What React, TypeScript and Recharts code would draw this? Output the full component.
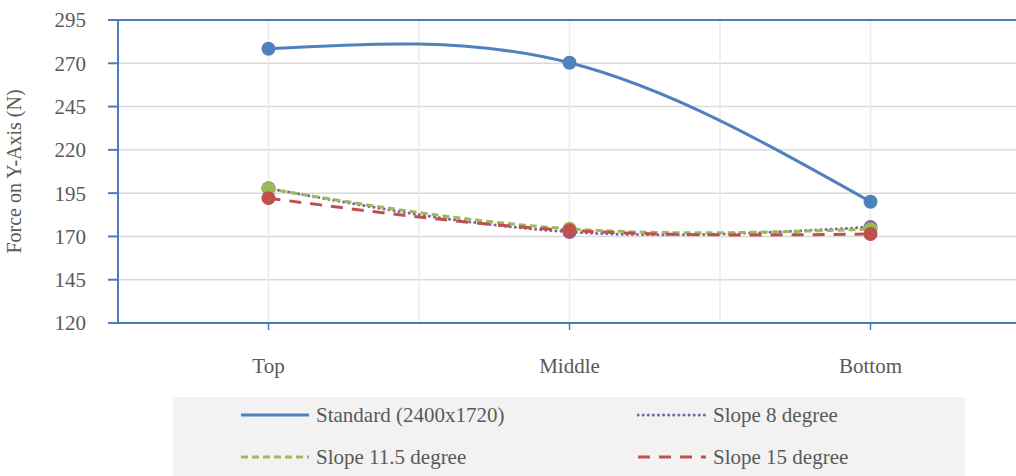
import { LineChart, Line, XAxis, YAxis, CartesianGrid, ReferenceLine } from 'recharts'

const positions = ['Top', 'Middle', 'Bottom']

const standard = [278.4, 270.3, 190]
const slope8 = [197.8, 172.6, 175.4]
const slope115 = [197.5, 174.4, 174.2]
const slope15 = [192.1, 173.5, 171.4]

const yTicks = [120, 145, 170, 195, 220, 245, 270, 295]

const SERIES = [
  { key: 'standard', name: 'Standard (2400x1720)', color: '#4f81bd', dash: undefined as string | undefined, cap: 'butt' as const },
  { key: 'slope8', name: 'Slope 8 degree', color: '#8064a2', dash: '0.1 5', cap: 'round' as const },
  { key: 'slope115', name: 'Slope 11.5 degree', color: '#9bbb59', dash: '7 4', cap: 'butt' as const },
  { key: 'slope15', name: 'Slope 15 degree', color: '#c0504d', dash: '12 9', cap: 'butt' as const },
]

const data = positions.map((p, i) => ({
  position: p,
  standard: standard[i],
  slope8: slope8[i],
  slope115: slope115[i],
  slope15: slope15[i],
}))

const AXIS = '#4a7ebb'
const FONT = '"Liberation Serif", "Times New Roman", serif'

// gridlines at every category centre and every band edge
const halfBandLines = ({ offset }: any) => {
  const n = positions.length * 2
  return Array.from({ length: n + 1 }, (_, i) => offset.left + (offset.width * i) / n)
}

function LegendBox() {
  return (
    <div
      style={{
        position: 'absolute',
        left: 173,
        top: 397,
        width: 792,
        height: 79,
        background: '#f2f2f2',
        fontFamily: FONT,
        fontSize: 21,
        color: '#595959',
      }}
    >
      {SERIES.map((s, i) => {
        const col = i % 2
        const row = Math.floor(i / 2)
        return (
          <div
            key={s.key}
            style={{
              position: 'absolute',
              left: col === 0 ? 67 : 464,
              top: row === 0 ? 5 : 47,
              height: 26,
              display: 'flex',
              alignItems: 'center',
              whiteSpace: 'nowrap',
            }}
          >
            <svg width={70} height={10} style={{ marginRight: 6 }}>
              <line
                x1={1}
                y1={5}
                x2={69}
                y2={5}
                stroke={s.color}
                strokeWidth={3}
                strokeDasharray={s.dash}
                strokeLinecap={s.cap}
              />
            </svg>
            {s.name}
          </div>
        )
      })}
    </div>
  )
}

export default function App() {
  return (
    <div
      style={{
        position: 'absolute',
        left: 0,
        top: 0,
        width: 1016,
        height: 476,
        overflow: 'hidden',
        background: '#fff',
        fontFamily: FONT,
      }}
    >
      <LineChart
        width={1030}
        height={476}
        data={data}
        margin={{ top: 20, right: 9, bottom: 0, left: 0 }}
        style={{ fontFamily: FONT }}
      >
        <CartesianGrid stroke="#d9d9d9" strokeWidth={1.5} vertical={false} />
        <CartesianGrid
          stroke="#ebebeb"
          strokeWidth={1.5}
          horizontal={false}
          verticalCoordinatesGenerator={halfBandLines}
        />
        <XAxis
          dataKey="position"
          scale="band"
          height={153}
          axisLine={{ stroke: AXIS, strokeWidth: 2 }}
          tickLine={{ stroke: AXIS, strokeWidth: 1.5 }}
          tickSize={7}
          tickMargin={28}
          tick={{ fontSize: 21, fill: '#595959', fontFamily: FONT }}
        />
        <YAxis
          domain={[120, 295]}
          ticks={yTicks}
          width={118}
          interval={0}
          axisLine={{ stroke: AXIS, strokeWidth: 2 }}
          tickLine={{ stroke: AXIS, strokeWidth: 2 }}
          tickSize={10}
          tickMargin={22}
          tick={{ fontSize: 21, fill: '#595959', fontFamily: FONT }}
          label={{
            value: 'Force on Y-Axis (N)',
            angle: -90,
            position: 'insideLeft',
            offset: 14,
            style: { textAnchor: 'middle', fontSize: 20, fill: '#595959', fontFamily: FONT },
          }}
        />
        <ReferenceLine y={295} stroke={AXIS} strokeWidth={2} />
        {SERIES.map((s) => (
          <Line
            key={s.key}
            dataKey={s.key}
            name={s.name}
            type="natural"
            stroke={s.color}
            strokeWidth={3}
            strokeDasharray={s.dash}
            strokeLinecap={s.cap}
            dot={{ r: 7, fill: s.color, stroke: s.color, strokeWidth: 0, strokeDasharray: '' }}
            activeDot={false}
            isAnimationActive={false}
          />
        ))}
      </LineChart>
      <LegendBox />
    </div>
  )
}
